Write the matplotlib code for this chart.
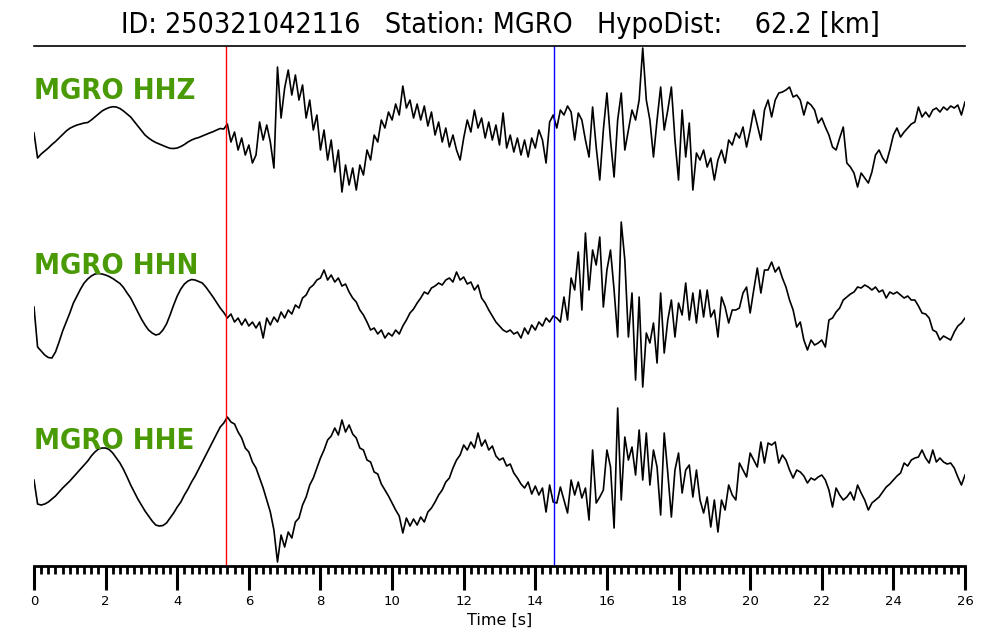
import matplotlib
matplotlib.use("Agg")
import numpy as np
import matplotlib.pyplot as plt

# sample interval of the traces [s], first sample at t = 0
dt = 0.1

station = "MGRO"
event_id = "250321042116"
hypo_dist = 62.2
channels = ["HHZ", "HHN", "HHE"]
p_pick = 5.35
s_pick = 14.52

# trace amplitudes (arbitrary units), one row = 1 s
hhz = [
    -3, -28, -24, -21, -18, -14.5, -11.5, -8, -4.5, -1,
    1.7, 3.5, 5, 6, 7, 7.5, 10, 13, 16, 19,
    21, 22.5, 23.3, 23, 21.5, 19, 16, 13, 8.5, 4,
    -0.5, -5, -8, -10.5, -12.5, -14, -15.5, -17, -18.3, -18.5,
    -18, -16.5, -14.5, -12, -10, -8.5, -7.5, -6, -4.5, -3,
    -1.7, 0, 1.5, 1, 6, -12, -2, -20, -8, -25,
    -15, -33, -25, 8, -10, 5, -12, -38, 63, 12,
    42, 60, 35, 55, 30, 45, 12, 30, 0, 15,
    -20, 0, -30, -10, -42, -20, -62, -35, -55, -38,
    -60, -35, -45, -20, -30, -5, -12, 10, 2, 18,
    10, 26, 15, 44, 22, 30, 12, 26, 10, 24,
    4, 18, -5, 8, -12, 2, -17, -5, -20, -30,
    -8, 10, -2, 20, 2, 12, -8, 8, -10, 5,
    -15, 17, -18, -5, -22, -8, -25, -10, -27, -8,
    -18, 0, -10, -33, 8, 15, 2, 20, 15, 24,
    18, -10, 17, 10, -10, -27, 23, -17, -50, 0,
    37, -10, -47, 10, 37, -20, 0, 20, 10, 30,
    82, 30, 10, -27, 10, 43, 0, 20, 43, -10,
    -50, 20, -27, 7, -60, -23, -30, -20, -37, -28,
    -50, -30, -20, -33, -10, -15, -3, -8, 3, -17,
    0, 20, 5, -10, 20, 30, 13, 30, 37, 38,
    40, 43, 33, 35, 30, 15, 28, 25, 20, 7,
    12, 3, -5, -17, -20, -8, 3, -33, -37, -43,
    -57, -43, -48, -53, -42, -25, -20, -28, -33, -20,
    -5, 2, -7, -2, 2, 6, 8, 23, 13, 18,
    13, 20, 22, 18, 23, 20, 24, 22, 25, 15,
    28,
]

hhn = [
    -2, -42, -46, -50, -52.5, -53, -47, -37, -26, -17,
    -8, 2, 9, 16, 22, 26, 29, 31, 31.5, 31,
    30, 28.5, 26.5, 24, 21.5, 17.5, 12, 7, 0, -7,
    -14, -20, -25, -28, -30, -29, -25, -19, -10, 0,
    9, 16, 21, 24, 25.5, 25, 23.5, 22, 18, 13,
    8, 2.5, -3, -7.5, -13, -9, -17, -13, -20, -14,
    -21, -17, -23, -17, -33, -13, -20, -12, -17, -7,
    -13, -5, -9, 0, -3, 7, 10, 17, 20, 25,
    27, 35, 25, 30, 23, 27, 19, 21, 13, 7,
    3, -5, -10, -17, -25, -23, -29, -25, -33, -28,
    -31, -25, -29, -21, -15, -8, -4, 2, 7, 13,
    11, 17, 19, 22, 20, 25, 27, 23, 33, 25,
    28, 21, 23, 15, 20, 7, 2, -5, -11, -17,
    -21, -25, -27, -25, -29, -27, -33, -23, -29, -20,
    -25, -17, -21, -13, -17, -11, -13, -17, 8, -15,
    27, 15, 53, -5, 72, 15, 55, 40, 68, -2,
    35, 55, 15, -32, 83, 45, -32, 12, -75, 8,
    -82, -28, -38, -18, -58, 12, -48, -15, 5, -32,
    2, -10, 22, -15, 12, -18, 15, -12, 15, -12,
    -5, -32, 8, -2, -18, -5, -5, -3, 12, 18,
    -8, 15, 37, 12, 35, 35, 43, 33, 38, 27,
    18, 5, -5, -22, -17, -35, -45, -35, -40, -38,
    -35, -42, -15, -13, -7, -3, 5, 8, 11, 13,
    18, 17, 20, 18, 15, 18, 13, 15, 7, 13,
    11, 13, 10, 7, 9, 5, 5, -1, -8, -9,
    -13, -25, -27, -35, -31, -33, -35, -27, -21, -18,
    -13,
]

hhe = [
    0, -24, -25, -24, -22, -19, -16, -12, -8, -4.5,
    -1, 3, 7, 11, 15, 19, 24, 28, 31, 32,
    32, 30.5, 27, 22, 17, 10.5, 3, -5, -12, -19,
    -25, -31, -36, -41, -45, -46, -45.5, -43, -38, -33,
    -27, -22, -15, -9, -2, 4, 11, 18, 25, 32,
    39, 46, 53, 57, 63, 58, 56, 48, 42, 32,
    28, 18, 12, 2, -8, -20, -32, -50, -82, -55,
    -67, -52, -58, -42, -38, -25, -17, -5, 2, 12,
    22, 30, 40, 44, 52, 45, 60, 48, 55, 46,
    42, 32, 30, 20, 18, 8, 6, -4, -10, -16,
    -23, -30, -36, -53, -38, -46, -39, -45, -37, -42,
    -32, -28, -22, -15, -10, -2, 2, 12, 20, 25,
    35, 30, 38, 32, 47, 34, 40, 30, 34, 24,
    20, 22, 14, 16, 7, 2, -4, -8, -2, -14,
    -6, -15, -8, -32, -5, -22, -23, -7, -20, -33,
    0, -15, -2, -18, -8, -40, 30, -23, -17, -10,
    30, 13, -48, 72, -20, 43, 20, 33, 5, 50,
    0, 47, -5, 30, 13, -35, 47, 7, -37, 10,
    27, -13, 10, 15, -17, 10, -20, -33, -17, -47,
    -20, -52, -20, -30, -5, -15, -20, 17, 10, 3,
    27, 20, 13, 38, 17, 37, 35, 38, 17, 25,
    20, 10, 2, 10, 8, 4, -3, 2, 0, 3,
    5, 0, -10, -27, -8, -15, -20, -17, -12, -20,
    -5, -13, -20, -30, -23, -20, -17, -12, -7, -4,
    0, 4, 7, 17, 14, 20, 22, 23, 30, 22,
    17, 30, 18, 22, 18, 16, 17, 12, 3, -5,
    5,
]

traces = [hhz, hhn, hhe]
spacing = 175

fig = plt.figure(figsize=(10, 6.4), dpi=100)
ax = fig.add_axes([0.034, 0.1156, 0.931, 0.8125])

for i, (cha, tr) in enumerate(zip(channels, traces)):
    tr = np.array(tr, dtype=float)
    t = np.arange(len(tr)) * dt
    off = -i * spacing
    ax.plot(t, tr + off, color="black", lw=1.2)
    ax.text(0, off + 39, f"{station} {cha}", color="#4a9a06", fontsize=21,
            fontweight="bold", ha="left", va="center", fontstretch="condensed")

ax.axvline(p_pick, color="red", lw=1.0)
ax.axvline(s_pick, color="blue", lw=1.0)

ax.set_xlim(0, 26)
ax.set_ylim(-436, 84)
ax.spines["left"].set_visible(False)
ax.spines["right"].set_visible(False)
ax.spines["top"].set_linewidth(1.2)
ax.spines["bottom"].set_linewidth(2.0)
ax.set_yticks([])
ax.set_xticks(np.arange(0, 27, 2))
ax.set_xticks(np.arange(0, 26.01, 0.2), minor=True)
ax.tick_params(axis="x", which="major", length=17, width=2.2, labelsize=9.5, pad=4)
ax.tick_params(axis="x", which="minor", length=6, width=2.0)
ax.set_xlabel("Time [s]", fontsize=11.5, labelpad=3)

fig.text(0.5, 0.961, f"ID: {event_id}   Station: {station}   HypoDist:    {hypo_dist} [km]",
         ha="center", va="center", fontsize=20.5, fontstretch="condensed")

plt.savefig("out.png", dpi=100)
plt.close()
